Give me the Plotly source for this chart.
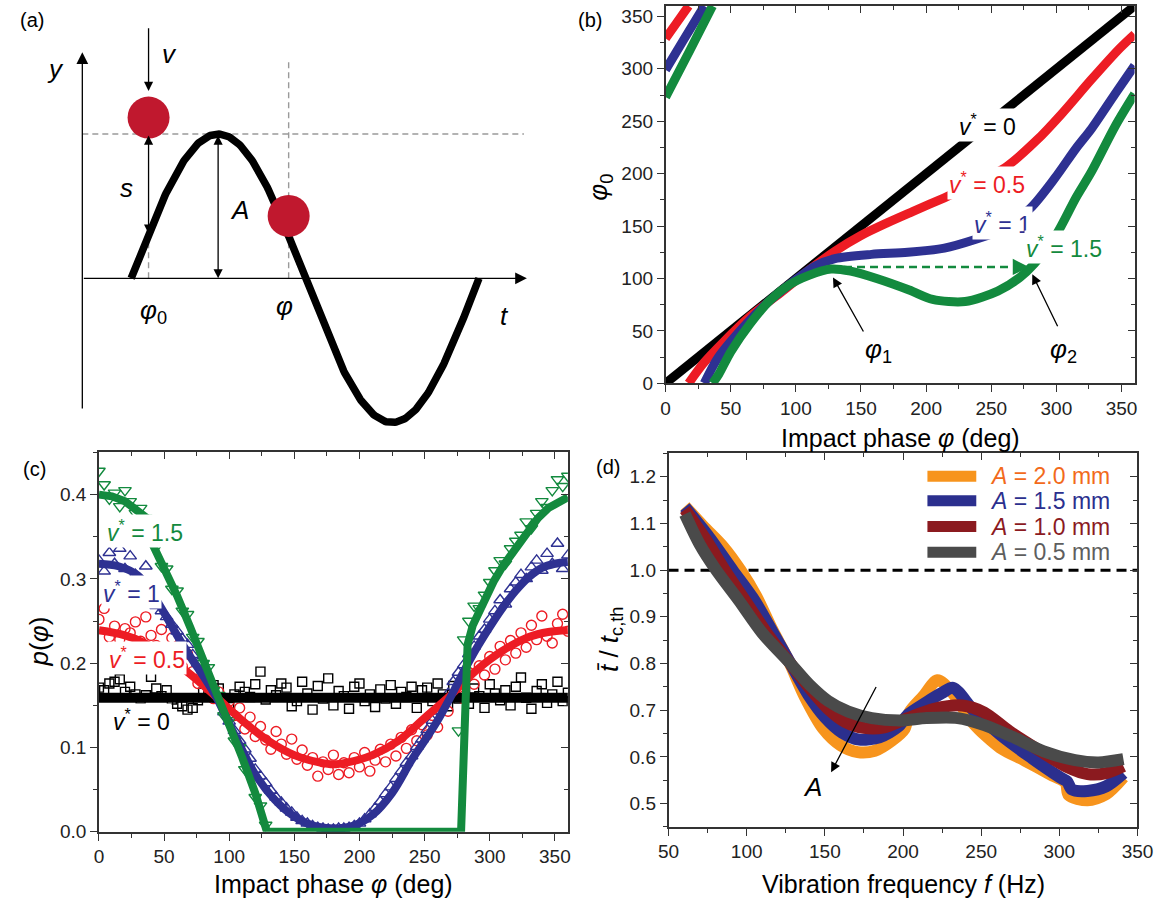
import numpy as np
import plotly.graph_objects as go

W, H = 1174, 909
FONT = "Liberation Sans, Arial, Helvetica, sans-serif"

# ---------------- data ----------------
# (b) launch phase phi0 versus impact phase phi, one curve per v*
b_v0_phi = [0, 360]
b_v0_phi0 = [0, 360]

b_v05_phi = [0, 8, 17.7, None, 17.7, 29, 45, 65, 90, 110, 130, 150, 170, 190, 214, 237, 262, 285, 304, 327, 349, 360]
b_v05_phi0 = [329, 343, 360, None, 0, 19, 40, 64, 88, 108, 126, 141, 153, 164, 177, 190, 207, 232, 257, 290, 320, 333]

b_v1_phi = [0, 14, 29.7, None, 29.7, 40, 60, 80, 100, 115, 130, 158, 186, 214, 237, 257, 280, 299, 315, 327, 345, 360]
b_v1_phi0 = [299, 328, 360, None, 0, 24, 54, 79, 99, 112, 119, 123, 125, 129, 137, 146, 167, 196, 224, 243, 276, 303]

b_v15_phi = [0, 18, 36, None, 36, 41, 50, 65, 80, 95, 110, 127, 142, 162, 187, 205, 230, 255, 272, 283, 300, 315, 327, 345, 360]
b_v15_phi0 = [273, 316, 360, None, 0, 9, 30, 57, 79, 94, 103, 109, 107, 100, 89, 80, 78, 88, 101, 114, 142, 177, 202, 245, 276]

PHI1, PHI2, PHI_JUMP = 127, 279, 111

# (c) impact-phase distributions: measured points every 4 deg, plus theory lines
c_phase = list(range(0, 361, 4))

c_pts_v0 = [0.171, 0.168, 0.176, 0.178, 0.181, 0.166, 0.172, 0.163, 0.158, 0.162,
            0.184, 0.170, 0.161, 0.168, 0.157, 0.152, 0.149, 0.145, 0.147, 0.156,
            0.165, 0.161, 0.174, 0.170, 0.152, 0.148, 0.163, 0.172, 0.166, 0.160,
            0.175, 0.190, 0.157, 0.168, 0.162, 0.176, 0.171, 0.149, 0.155, 0.178,
            0.164, 0.145, 0.173, 0.158, 0.182, 0.150, 0.167, 0.161, 0.146, 0.172,
            0.176, 0.155, 0.163, 0.148, 0.169, 0.158, 0.174, 0.152, 0.166, 0.160,
            0.172, 0.147, 0.168, 0.171, 0.155, 0.176, 0.163, 0.149, 0.173, 0.158,
            0.166, 0.152, 0.170, 0.161, 0.147, 0.175, 0.164, 0.156, 0.168, 0.150,
            0.172, 0.183, 0.159, 0.146, 0.167, 0.175, 0.153, 0.163, 0.178, 0.155,
            0.165]

c_pts_v05 = [0.252, 0.265, 0.231, 0.244, 0.228, 0.241, 0.236, 0.249, 0.226, 0.255,
             0.233, 0.221, 0.240, 0.212, 0.230, 0.205, 0.196, 0.211, 0.190, 0.176,
             0.185, 0.170, 0.158, 0.166, 0.147, 0.155, 0.138, 0.147, 0.122, 0.136,
             0.113, 0.125, 0.109, 0.098, 0.119, 0.104, 0.092, 0.110, 0.086, 0.097,
             0.079, 0.088, 0.066, 0.083, 0.074, 0.091, 0.068, 0.082, 0.070, 0.088,
             0.077, 0.094, 0.072, 0.085, 0.098, 0.083, 0.104, 0.090, 0.112, 0.099,
             0.121, 0.108, 0.127, 0.115, 0.138, 0.124, 0.149, 0.143, 0.162, 0.171,
             0.158, 0.189, 0.175, 0.197, 0.186, 0.208, 0.193, 0.220, 0.204, 0.227,
             0.212, 0.236, 0.219, 0.245, 0.228, 0.256, 0.232, 0.224, 0.247, 0.258,
             0.238]

c_pts_v1 = [0.322, 0.309, 0.331, 0.318, 0.336, 0.312, 0.327, 0.305, 0.298, 0.315,
            0.290, 0.268, 0.262, 0.255, 0.246, 0.238, 0.229, 0.222, 0.210, 0.200,
            0.192, 0.180, 0.168, 0.157, 0.142, 0.131, 0.120, 0.108, 0.098, 0.087,
            0.074, 0.066, 0.058, 0.049, 0.041, 0.035, 0.028, 0.023, 0.017, 0.013,
            0.010, 0.007, 0.005, 0.004, 0.003, 0.003, 0.004, 0.004, 0.005, 0.007,
            0.010, 0.015, 0.021, 0.028, 0.036, 0.045, 0.053, 0.063, 0.072, 0.082,
            0.090, 0.101, 0.110, 0.121, 0.132, 0.143, 0.154, 0.164, 0.178, 0.189,
            0.198, 0.211, 0.220, 0.232, 0.240, 0.252, 0.262, 0.275, 0.270, 0.288,
            0.296, 0.305, 0.300, 0.314, 0.322, 0.310, 0.330, 0.318, 0.342, 0.312,
            0.328]

c_pts_v15 = [0.428, 0.412, 0.395, 0.402, 0.386, 0.405, 0.392, 0.378, 0.384, 0.372,
             0.352, 0.338, 0.315, 0.312, 0.288, 0.286, 0.262, 0.258, 0.231, 0.226,
             0.200, 0.195, 0.168, 0.162, 0.138, 0.132, 0.108, 0.100, 0.074, 0.067,
             0.041, 0.031, 0.008, None, None, None, None, None, None, None,
             None, None, None, None, None, None, None, None, None, None,
             None, None, None, None, None, None, None, None, None, None,
             None, None, None, None, None, None, None, None, None, 0.120,
             0.228, 0.250, 0.268, 0.265, 0.281, 0.296, 0.310, 0.322, 0.318, 0.336,
             0.345, 0.352, 0.368, 0.360, 0.378, 0.392, 0.385, 0.405, 0.418, 0.410,
             0.422]

c_fit_v0_x = [0, 360]
c_fit_v0_y = [0.159, 0.159]
c_fit_v05_x = [0, 20, 35, 52, 70, 90, 110, 130, 150, 170, 180, 190, 210, 230, 250, 270, 290, 310, 330, 345, 360]
c_fit_v05_y = [0.239, 0.233, 0.224, 0.208, 0.187, 0.160, 0.132, 0.108, 0.091, 0.082, 0.080, 0.082, 0.091, 0.108,
               0.135, 0.162, 0.192, 0.215, 0.231, 0.237, 0.239]
c_fit_v1_x = [0, 15, 30, 40, 50, 60, 70, 80, 90, 100, 110, 120, 135, 150, 165, 180, 195, 210, 225, 240, 250,
              260, 270, 280, 290, 300, 310, 320, 330, 340, 350, 360]
c_fit_v1_y = [0.318, 0.315, 0.304, 0.285, 0.260, 0.233, 0.208, 0.185, 0.160, 0.128, 0.097, 0.068, 0.038, 0.018,
              0.007, 0.004, 0.007, 0.020, 0.046, 0.085, 0.108, 0.132, 0.160, 0.190, 0.218, 0.243, 0.266, 0.286,
              0.302, 0.313, 0.318, 0.320]
c_fit_v15_x = [0, 10, 20, 30, 37, 40, 50, 60, 70, 80, 90, 100, 110, 120, 129, 278, 283, 287, 292, 297, 303,
               310, 320, 330, 337, 345, 353, 360]
c_fit_v15_y = [0.400, 0.398, 0.392, 0.380, 0.372, 0.345, 0.315, 0.280, 0.243, 0.205, 0.165, 0.128, 0.088, 0.046,
               0.0, 0.0, 0.222, 0.245, 0.262, 0.280, 0.297, 0.315, 0.337, 0.356, 0.372, 0.384, 0.392, 0.397]

# (d) normalised mean contact time versus vibration frequency, one curve per amplitude
d_f_20 = [60.5, 72, 85, 96, 106, 116, 127, 137, 149, 160, 171, 182, 193, 201, 204, 213, 222, 231, 245, 262,
          278, 294, 304, 306, 318, 330, 341]
d_t_20 = [1.137, 1.095, 1.050, 1.000, 0.945, 0.875, 0.805, 0.730, 0.660, 0.625, 0.610, 0.613, 0.635, 0.660,
          0.695, 0.730, 0.764, 0.740, 0.672, 0.620, 0.592, 0.563, 0.545, 0.518, 0.507, 0.520, 0.556]
d_f_15 = [60.5, 75, 91, 105, 117, 128, 140, 150, 161, 172, 185, 197, 203, 215, 225, 232, 245, 262, 280, 300,
          305, 308, 318, 330, 341]
d_t_15 = [1.135, 1.075, 1.000, 0.935, 0.865, 0.800, 0.730, 0.685, 0.652, 0.637, 0.642, 0.665, 0.690, 0.717,
          0.737, 0.748, 0.700, 0.648, 0.603, 0.557, 0.547, 0.530, 0.527, 0.537, 0.565]
d_f_10 = [60.5, 74, 86, 100, 115, 128, 140, 152, 163, 175, 188, 203, 220, 238, 252, 268, 288, 305, 318, 330, 341]
d_t_10 = [1.130, 1.065, 1.000, 0.930, 0.855, 0.800, 0.748, 0.703, 0.675, 0.662, 0.663, 0.683, 0.703, 0.710,
          0.695, 0.655, 0.612, 0.578, 0.563, 0.565, 0.580]
d_f_05 = [60.5, 70, 80.5, 95, 110, 128, 140, 152, 165, 180, 198, 215, 235, 252, 270, 290, 310, 325, 341]
d_t_05 = [1.120, 1.055, 1.000, 0.935, 0.865, 0.800, 0.755, 0.720, 0.697, 0.683, 0.678, 0.683, 0.683, 0.668,
          0.643, 0.612, 0.593, 0.588, 0.595]
d_amp_labels = ["2.0", "1.5", "1.0", "0.5"]

# ---------------- styling ----------------
BLACK, RED, BLUE, GREEN = "#000000", "#ED1C24", "#2E3192", "#138A3E"
ORANGE, NAVY, MAROON, GREY = "#F7941D", "#2B2F8E", "#8B1A1F", "#4A4A4A"
BALL = "#C0182E"
AX = "#333333"


def px(x):
    return x / W


def py(y):
    return 1 - y / H


tickfont = dict(family=FONT, size=19, color="#222")


def main_axis(domain, rng, dtick, minor_dtick, anchor, fmt=None, tick0=0):
    d = dict(domain=domain, range=rng, anchor=anchor, showline=True, linecolor=AX, linewidth=1.5,
             mirror=True, ticks="outside", ticklen=7, tickwidth=1.4, tickcolor=AX,
             tickmode="linear", tick0=tick0, dtick=dtick, showgrid=False, zeroline=False,
             tickfont=tickfont,
             minor=dict(ticks="outside", ticklen=4, tickwidth=1.2, tickcolor=AX, dtick=minor_dtick,
                        tick0=tick0, showgrid=False))
    if fmt:
        d["tickformat"] = fmt
    return d


def inner_axis(rng, dtick, minor_dtick, overlaying, side, anchor, tick0=0):
    return dict(range=rng, overlaying=overlaying, side=side, anchor=anchor, showline=False,
                ticks="inside", ticklen=7, tickwidth=1.4, tickcolor=AX, showticklabels=False,
                tickmode="linear", tick0=tick0, dtick=dtick, showgrid=False, zeroline=False,
                minor=dict(ticks="inside", ticklen=4, tickwidth=1.2, tickcolor=AX, dtick=minor_dtick,
                           tick0=tick0, showgrid=False))


fig = go.Figure()

# ---------------- panel (a): schematic ----------------
A_LEFT, A_RIGHT, A_TOP, A_BOTTOM = 0, 600, 0, 445      # pixel box of the sketch
SINE_X0, PERIOD_PX = 123, 356                           # where the plate wave starts / one period
AXIS_Y, AMP_PX = 281.7, 146                             # baseline and amplitude in pixels
deg_per_px = 360 / PERIOD_PX


def ax_a(xp):
    return (xp - SINE_X0) * deg_per_px


def ay_a(yp):
    return (AXIS_Y - yp) / AMP_PX


PHI0_A, PHI_A = 18, 163                                 # launch and impact phases in the sketch
plate_phase = np.linspace(0, 360, 361)
plate_y = np.sin(np.radians(plate_phase))               # plate displacement y = A sin(phase)
fig.add_trace(go.Scatter(x=plate_phase, y=plate_y, mode="lines", xaxis="x", yaxis="y",
                         line=dict(color="black", width=7.5), hoverinfo="skip", showlegend=False))

t_left, t_right = ax_a(73), ax_a(528)
y_low, y_high = ay_a(415), ay_a(53)
dash_grey = dict(color="#9a9a9a", width=1.4, dash="6px,4px")
shapes = [
    dict(type="line", xref="x", yref="y", x0=t_left, x1=ax_a(525), y0=1, y1=1, line=dash_grey, layer="below"),
    dict(type="line", xref="x", yref="y", x0=PHI_A, x1=PHI_A, y0=0, y1=ay_a(62), line=dash_grey, layer="below"),
    dict(type="line", xref="x", yref="y", x0=PHI0_A, x1=PHI0_A, y0=0, y1=np.sin(np.radians(PHI0_A)),
         line=dash_grey, layer="below"),
]
ball_r = 21
for cx, cy in [(PHI0_A, ay_a(119)), (PHI_A, np.sin(np.radians(PHI_A)) + 0.14)]:
    shapes.append(dict(type="circle", xref="x", yref="y", xsizemode="pixel", ysizemode="pixel",
                       xanchor=cx, yanchor=cy, x0=-ball_r, x1=ball_r, y0=-ball_r, y1=ball_r,
                       fillcolor=BALL, line=dict(width=0), layer="above"))

ann = []


def arrow(x, y, axv, ayv, xr, yr, color="black", width=1.3, size=1.4, head=2, both=False):
    d = dict(x=x, y=y, ax=axv, ay=ayv, xref=xr, yref=yr, axref=xr, ayref=yr, text="",
             showarrow=True, arrowhead=head, arrowsize=size, arrowwidth=width, arrowcolor=color,
             standoff=0, startstandoff=0)
    if both:
        d.update(arrowside="end+start", startarrowhead=head, startarrowsize=size)
    return d


ann.append(arrow(t_right, 0, t_left, 0, "x", "y", size=1.8))
ann.append(arrow(t_left, y_high, t_left, y_low, "x", "y", size=1.8))
ann.append(arrow(PHI0_A, ay_a(92), PHI0_A, ay_a(27), "x", "y"))
ann.append(arrow(PHI0_A, np.sin(np.radians(PHI0_A)), PHI0_A, 1, "x", "y", both=True))
ann.append(arrow(90, 0, 90, 1, "x", "y", both=True))


def text_px(xp, yp, txt, size=25, color="black", xanchor="center", angle=0):
    return dict(x=px(xp), y=py(yp), xref="paper", yref="paper", text=txt, showarrow=False,
                font=dict(family=FONT, size=size, color=color), xanchor=xanchor, yanchor="middle",
                textangle=angle)


ann += [
    text_px(21, 20, "(a)", 20),
    text_px(46, 70, "<i>y</i>", 26),
    text_px(162, 55, "<i>v</i>", 26),
    text_px(118, 190, "<i>s</i>", 26),
    text_px(234, 213, "<i>A</i>", 26),
    text_px(146, 315, "<i>φ</i><sub>0</sub>", 26),
    text_px(280, 310, "<i>φ</i>", 26),
    text_px(505, 320, "<i>t</i>", 26),
]

# ---------------- panel (b) ----------------
for xs, ys, col in [(b_v0_phi, b_v0_phi0, BLACK), (b_v05_phi, b_v05_phi0, RED),
                    (b_v1_phi, b_v1_phi0, BLUE), (b_v15_phi, b_v15_phi0, GREEN)]:
    fig.add_trace(go.Scatter(x=xs, y=ys, mode="lines", xaxis="x2", yaxis="y2", connectgaps=False,
                             line=dict(color=col, width=9, shape="spline", smoothing=0.8),
                             hoverinfo="skip", showlegend=False))
shapes.append(dict(type="line", xref="x2", yref="y2", x0=PHI1, x1=PHI2 - 10, y0=PHI_JUMP, y1=PHI_JUMP,
                   line=dict(color=GREEN, width=2.5, dash="8px,5px")))
ann.append(arrow(PHI2, PHI_JUMP, PHI2 - 12, PHI_JUMP, "x2", "y2", color=GREEN, width=2.5, size=1.3))
ann.append(arrow(PHI1 + 1.5, 101, 152.5, 48, "x2", "y2", width=1.3, size=1.5))
ann.append(arrow(PHI2 + 2.5, 104, 301.5, 53, "x2", "y2", width=1.3, size=1.5))


def label_data(x, y, txt, xr, yr, color, size=23):
    return dict(x=x, y=y, xref=xr, yref=yr, text=txt, showarrow=False, bgcolor="white", borderpad=1,
                font=dict(family=FONT, size=size, color=color))


ann += [
    label_data(163.8, 31, "<i>φ</i><sub>1</sub>", "x2", "y2", "black", 26),
    label_data(305.6, 31, "<i>φ</i><sub>2</sub>", "x2", "y2", "black", 26),
    label_data(247, 246, "<i>v</i><sup>*</sup> = 0", "x2", "y2", BLACK),
    label_data(247, 191, "<i>v</i><sup>*</sup> = 0.5", "x2", "y2", RED),
    label_data(259, 153, "<i>v</i><sup>*</sup> = 1", "x2", "y2", BLUE),
    label_data(306, 130, "<i>v</i><sup>*</sup> = 1.5", "x2", "y2", GREEN),
]

# ---------------- panel (c) ----------------
for ys, col, sym, sz in [(c_pts_v0, BLACK, "square-open", 9), (c_pts_v05, RED, "circle-open", 10),
                         (c_pts_v1, BLUE, "triangle-up-open", 11),
                         (c_pts_v15, GREEN, "triangle-down-open", 11)]:
    fig.add_trace(go.Scatter(x=c_phase, y=ys, mode="markers", xaxis="x3", yaxis="y3",
                             marker=dict(symbol=sym, size=sz, color=col, line=dict(width=1.4, color=col)),
                             hoverinfo="skip", showlegend=False))
for xs, ys, col, w, shp in [(c_fit_v0_x, c_fit_v0_y, BLACK, 10, "linear"),
                            (c_fit_v05_x, c_fit_v05_y, RED, 8, "spline"),
                            (c_fit_v1_x, c_fit_v1_y, BLUE, 8, "spline"),
                            (c_fit_v15_x, c_fit_v15_y, GREEN, 8, "linear")]:
    fig.add_trace(go.Scatter(x=xs, y=ys, mode="lines", xaxis="x3", yaxis="y3",
                             line=dict(color=col, width=w, shape=shp), hoverinfo="skip", showlegend=False))
ann += [
    label_data(35, 0.357, "<i>v</i><sup>*</sup> = 1.5", "x3", "y3", GREEN),
    label_data(25, 0.285, "<i>v</i><sup>*</sup> = 1", "x3", "y3", BLUE),
    label_data(37, 0.206, "<i>v</i><sup>*</sup> = 0.5", "x3", "y3", RED),
    label_data(33, 0.133, "<i>v</i><sup>*</sup> = 0", "x3", "y3", BLACK),
]

# ---------------- panel (d) ----------------
d_series = [(d_f_20, d_t_20, ORANGE, "#F26A1B"), (d_f_15, d_t_15, NAVY, NAVY),
            (d_f_10, d_t_10, MAROON, MAROON), (d_f_05, d_t_05, GREY, "#5E5E5E")]
for xs, ys, col, _ in d_series:
    fig.add_trace(go.Scatter(x=xs, y=ys, mode="lines", xaxis="x4", yaxis="y4",
                             line=dict(color=col, width=12, shape="spline", smoothing=0.8),
                             hoverinfo="skip", showlegend=False))
shapes.append(dict(type="line", xref="x4", yref="y4", x0=50, x1=350, y0=1.0, y1=1.0,
                   line=dict(color="black", width=3, dash="10px,6px"), layer="below"))
ann.append(arrow(154, 0.567, 183.3, 0.753, "x4", "y4", width=1.3, size=1.5))
ann.append(label_data(142, 0.535, "<i>A</i>", "x4", "y4", "black", 26))

# legend drawn as line samples with coloured labels
leg_rows = [482, 507, 533, 559]
for (xs, ys, col, tcol), amp, yrow in zip(d_series, d_amp_labels, leg_rows):
    shapes.append(dict(type="line", xref="paper", yref="paper", x0=px(938), x1=px(988),
                       y0=py(yrow), y1=py(yrow), line=dict(color=col, width=11)))
    ann.append(dict(x=px(1000), y=py(yrow), xref="paper", yref="paper", xanchor="left", yanchor="middle",
                    text=f"<i>A</i> = {amp} mm", showarrow=False,
                    font=dict(family=FONT, size=23, color=tcol)))

# ---------------- axis titles and panel letters ----------------
ann += [
    text_px(593, 20, "(b)", 20),
    text_px(24, 475, "(c)", 20),
    text_px(611, 473, "(d)", 20),
    text_px(910, 443, "Impact phase <i>φ</i> (deg)", 25),
    text_px(330, 895, "Impact phase <i>φ</i> (deg)", 25),
    text_px(913, 895, "Vibration frequency <i>f</i> (Hz)", 25),
    text_px(603, 190, "<i>φ</i><sub>0</sub>", 26, angle=-90),
    text_px(29, 649, "<i>p</i>(<i>φ</i>)", 26, angle=-90),
    text_px(613, 647, "<i>t̄</i> / <i>t</i><sub>c,th</sub>", 26, angle=-90),
]

# invisible traces so the inner-tick overlay axes get drawn
for xa, ya in [("x5", "y5"), ("x6", "y6"), ("x7", "y7")]:
    fig.add_trace(go.Scatter(x=[None], y=[None], xaxis=xa, yaxis=ya, mode="markers",
                             hoverinfo="skip", showlegend=False))

B_DOM_X, B_DOM_Y = [px(670), px(1150)], [py(388), py(6)]
C_DOM_X, C_DOM_Y = [px(90), px(570)], [py(842), py(458)]
D_DOM_X, D_DOM_Y = [px(673), px(1153)], [py(837), py(459)]

fig.update_layout(
    width=W, height=H, margin=dict(l=0, r=0, t=0, b=0), paper_bgcolor="white", plot_bgcolor="white",
    showlegend=False, font=dict(family=FONT),
    xaxis=dict(domain=[px(A_LEFT), px(A_RIGHT)], range=[ax_a(A_LEFT), ax_a(A_RIGHT)], visible=False,
               anchor="y"),
    yaxis=dict(domain=[py(A_BOTTOM), py(A_TOP)], range=[ay_a(A_BOTTOM), ay_a(A_TOP)], visible=False,
               anchor="x"),
    xaxis2=main_axis(B_DOM_X, [0, 360], 50, 25, "y2"),
    yaxis2=main_axis(B_DOM_Y, [0, 360], 50, 25, "x2"),
    xaxis3=main_axis(C_DOM_X, [0, 360], 50, 25, "y3"),
    yaxis3=main_axis(C_DOM_Y, [0, 0.45], 0.1, 0.05, "x3", fmt=".1f"),
    xaxis4=main_axis(D_DOM_X, [50, 350], 50, 25, "y4", tick0=50),
    yaxis4=main_axis(D_DOM_Y, [0.45, 1.25], 0.1, 0.05, "x4", fmt=".1f", tick0=0.5),
    xaxis5=inner_axis([0, 360], 50, 25, "x2", "top", "y5"),
    yaxis5=inner_axis([0, 360], 50, 25, "y2", "right", "x5"),
    xaxis6=inner_axis([0, 360], 50, 25, "x3", "top", "y6"),
    yaxis6=inner_axis([0, 0.45], 0.1, 0.05, "y3", "right", "x6"),
    xaxis7=inner_axis([50, 350], 50, 25, "x4", "top", "y7", tick0=50),
    yaxis7=inner_axis([0.45, 1.25], 0.1, 0.05, "y4", "right", "x7", tick0=0.5),
    shapes=shapes,
    annotations=ann,
)

fig.write_html("out.html", config={"displayModeBar": False})
